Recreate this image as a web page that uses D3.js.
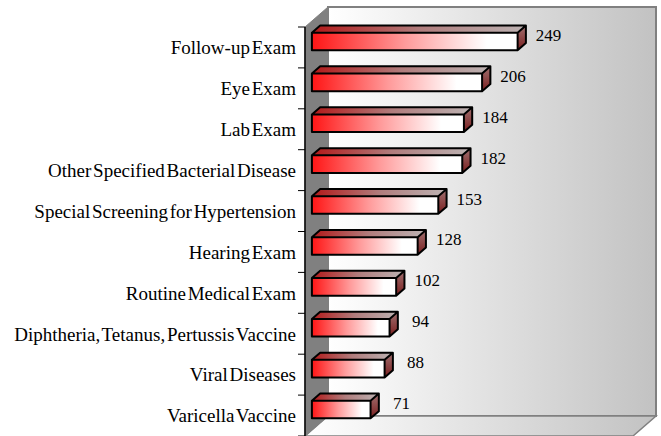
<!DOCTYPE html>
<html>
<head>
<meta charset="utf-8">
<script src="https://cdn.jsdelivr.net/npm/d3@7"></script>
<style>
  body { margin: 0; background: #fff; }
  text { font-family: "Liberation Serif", "Times New Roman", serif; fill: #000; }
</style>
</head>
<body>
<div id="chart"></div>
<script>
// Data
var categories = ["Follow-up Exam", "Eye Exam", "Lab Exam", "Other Specified Bacterial Disease",
  "Special Screening for Hypertension", "Hearing Exam", "Routine Medical Exam",
  "Diphtheria, Tetanus, Pertussis Vaccine", "Viral Diseases", "Varicella Vaccine"];
var values = [249, 206, 184, 182, 153, 128, 102, 94, 88, 71];
var axisMax = 397;

// Setting up the canvas
var width = 661, height = 436;
var x0 = 305, y0 = 27,          // front plane origin
    plotW = 328, plotH = 409,
    dx = 23, dy = -20;          // depth offset of the back wall
var barFront = 0.3, barDepth = 0.36;

var svg = d3.select("#chart").append("svg")
  .attr("width", width)
  .attr("height", height);

var defs = svg.append("defs");

function linGrad(id, x2, y2, stops) {
  var g = defs.append("linearGradient").attr("id", id)
    .attr("x1", 0).attr("y1", 0).attr("x2", x2).attr("y2", y2);
  stops.forEach(function(s) {
    g.append("stop").attr("offset", s[0]).attr("stop-color", s[1]);
  });
}
linGrad("wallGrad", 1, 0, [[0, "#ffffff"], [1, "#c2c2c2"]]);
linGrad("frontGrad", 1, 0, [[0, "#ff1515"], [0.45, "#ff9a9a"], [0.85, "#ffffff"], [1, "#ffffff"]]);
linGrad("topGrad", 1, 0, [[0, "#b31818"], [0.5, "#b07c7c"], [1, "#bdb3b3"]]);
linGrad("endGrad", 0, 1, [[0, "#a07070"], [1, "#7a1e1e"]]);

// Scales
var xScale = d3.scaleLinear().domain([0, axisMax]).range([0, plotW]);
var yScale = d3.scaleBand().domain(categories).range([y0, y0 + plotH]);

// Walls
svg.append("rect")
  .attr("x", x0 + dx).attr("y", y0 + dy)
  .attr("width", plotW).attr("height", plotH)
  .attr("fill", "url(#wallGrad)")
  .attr("stroke", "#808080").attr("stroke-width", 2);

svg.append("polygon")
  .attr("points", [[x0 + dx, y0 + plotH + dy], [x0 + dx + plotW, y0 + plotH + dy],
    [x0 + plotW, y0 + plotH], [x0, y0 + plotH]].join(" "))
  .attr("fill", "url(#wallGrad)")
  .attr("stroke", "#808080").attr("stroke-width", 1.5);

svg.append("polygon")
  .attr("points", [[x0, y0], [x0 + dx, y0 + dy], [x0 + dx, y0 + plotH + dy], [x0, y0 + plotH]].join(" "))
  .attr("fill", "#808080")
  .attr("stroke", "#808080").attr("stroke-width", 1);

// Axis line and ticks at band edges
svg.append("line")
  .attr("x1", x0).attr("x2", x0)
  .attr("y1", y0).attr("y2", y0 + plotH)
  .attr("stroke", "#000").attr("stroke-width", 1.5);

var edges = categories.map(function(c) { return yScale(c); }).concat([y0 + plotH]);
svg.selectAll(".tick-edge")
  .data(edges)
  .enter().append("line")
  .attr("class", "tick-edge")
  .attr("x1", x0 - 7).attr("x2", x0)
  .attr("y1", function(d) { return d; }).attr("y2", function(d) { return d; })
  .attr("stroke", "#000").attr("stroke-width", 1);

var yAxis = d3.axisLeft(yScale).tickSize(0).tickPadding(9);
var gy = svg.append("g")
  .attr("transform", "translate(" + x0 + ",0)")
  .call(yAxis);
gy.select(".domain").remove();
gy.selectAll("text")
  .attr("font-family", "'Liberation Serif', 'Times New Roman', serif")
  .attr("font-size", 19)
  .attr("letter-spacing", 0)
  .attr("word-spacing", -3)
  .attr("fill", "#000")
  .attr("dy", "0.36em");

// Bars
var barH = yScale.bandwidth() * 0.43;
var ox = x0 + barFront * dx, oy = barFront * dy;
var bx = barDepth * dx, by = barDepth * dy;

var bars = svg.selectAll(".bar")
  .data(categories.map(function(c, i) { return {cat: c, value: values[i]}; }))
  .enter().append("g")
  .attr("class", "bar");

function fy(d) { return yScale(d.cat) + yScale.bandwidth() / 2 + oy - barH / 2; }

bars.append("polygon")
  .attr("points", function(d) {
    var x1 = ox, x2 = ox + xScale(d.value), y = fy(d);
    return [[x1, y], [x1 + bx, y + by], [x2 + bx, y + by], [x2, y]].join(" ");
  })
  .attr("fill", "url(#topGrad)");

bars.append("polygon")
  .attr("points", function(d) {
    var x2 = ox + xScale(d.value), y = fy(d);
    return [[x2, y], [x2 + bx, y + by], [x2 + bx, y + by + barH], [x2, y + barH]].join(" ");
  })
  .attr("fill", "url(#endGrad)");

bars.append("rect")
  .attr("x", ox)
  .attr("y", fy)
  .attr("width", function(d) { return xScale(d.value); })
  .attr("height", barH)
  .attr("fill", "url(#frontGrad)");

// outline
bars.append("path")
  .attr("d", function(d) {
    var x1 = ox, x2 = ox + xScale(d.value), y = fy(d);
    return "M" + x1 + "," + y + "L" + (x1 + bx) + "," + (y + by) +
      "L" + (x2 + bx) + "," + (y + by) + "L" + (x2 + bx) + "," + (y + by + barH) +
      "L" + x2 + "," + (y + barH) + "L" + x1 + "," + (y + barH) + "Z" +
      "M" + x1 + "," + y + "L" + x2 + "," + y + "L" + (x2 + bx) + "," + (y + by) +
      "M" + x2 + "," + y + "L" + x2 + "," + (y + barH);
  })
  .attr("fill", "none")
  .attr("stroke", "#000")
  .attr("stroke-width", 2)
  .attr("stroke-linejoin", "round");

// value labels
bars.append("text")
  .attr("x", function(d) { return ox + xScale(d.value) + 31; })
  .attr("y", function(d) { return fy(d) + barH / 2 - 6.5; })
  .attr("dy", "0.35em")
  .attr("text-anchor", "middle")
  .attr("font-size", 17)
  .text(function(d) { return d.value; });
</script>
</body>
</html>
